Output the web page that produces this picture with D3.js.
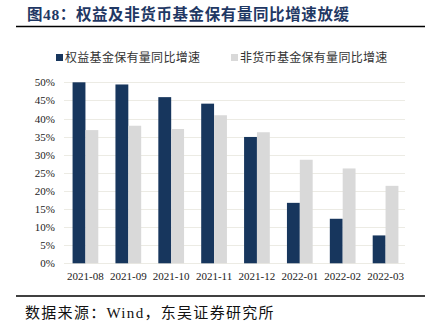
<!DOCTYPE html>
<html><head><meta charset="utf-8">
<script src="https://cdn.jsdelivr.net/npm/d3@7/dist/d3.min.js"></script>
<style>body{margin:0;background:#fff;}svg{display:block;}</style>
</head><body>
<div id="chart"></div>
<script>
const categories = ["2021-08","2021-09","2021-10","2021-11","2021-12","2022-01","2022-02","2022-03"];
const equityGrowth = [50.0, 49.4, 45.9, 44.1, 34.9, 16.7, 12.3, 7.7];
const nonMoneyGrowth = [36.8, 38.0, 37.1, 40.9, 36.2, 28.6, 26.2, 21.4];
const yTicks = [0,5,10,15,20,25,30,35,40,45,50];
const seriesNames = ["权益基金保有量同比增速","非货币基金保有量同比增速"];
const colors = ["#17365d","#d9d9d9"];
const titleText = "图48：权益及非货币基金保有量同比增速放缓";
const sourceText = "数据来源：Wind，东吴证券研究所";

const W = 433, H = 333;
const svg = d3.select("#chart").append("svg").attr("width", W).attr("height", H);
const cjk = "'Liberation Serif','Noto Sans CJK SC',serif";

svg.append("text").attr("x", 27).attr("y", 20)
  .attr("font-family", cjk).attr("font-size", 15.5).attr("font-weight", "bold").attr("letter-spacing", 0.6)
  .attr("fill", "#1f3864").text(titleText);
svg.append("line").attr("x1", 16).attr("x2", 425).attr("y1", 26.5).attr("y2", 26.5)
  .attr("stroke", "#000").attr("stroke-width", 1.5);

const x0 = d3.scaleBand().domain(categories).range([64, 407]).paddingInner(0.4).paddingOuter(0.2);
const x1 = d3.scaleBand().domain([0,1]).range([0, x0.bandwidth()]);
const y = d3.scaleLinear().domain([0, 50]).range([263.3, 82.3]);

// grid
svg.append("g").selectAll("line").data(yTicks).join("line")
  .attr("x1", 64).attr("x2", 405)
  .attr("y1", d => Math.round(y(d)) + 0.5).attr("y2", d => Math.round(y(d)) + 0.5)
  .attr("stroke", "#ecebe4").attr("stroke-width", 1);

// y axis
const yAxis = d3.axisLeft(y).tickValues(yTicks).tickFormat(d => d + "%").tickSize(0).tickPadding(0);
const yg = svg.append("g").attr("transform", "translate(55,0)").call(yAxis);
yg.select(".domain").remove();
yg.selectAll("text").attr("font-family", "'Liberation Serif',serif").attr("font-size", 11).attr("fill", "#222");

// bars
const groups = svg.append("g").selectAll("g").data(categories).join("g")
  .attr("transform", d => `translate(${x0(d)},0)`);
groups.selectAll("rect").data((d, i) => [equityGrowth[i], nonMoneyGrowth[i]].map((v, k) => ({v, k})))
  .join("rect")
  .attr("x", d => x1(d.k))
  .attr("width", x1.bandwidth())
  .attr("y", d => y(d.v))
  .attr("height", d => y(0) - y(d.v))
  .attr("fill", d => colors[d.k]);

// x axis
const xAxis = d3.axisBottom(x0).tickSize(0).tickPadding(8);
const xg = svg.append("g").attr("transform", "translate(0,264)").call(xAxis);
xg.select(".domain").remove();
xg.selectAll("text").attr("font-family", "'Liberation Serif',serif").attr("font-size", 11).attr("fill", "#222");

// legend
const legendPos = [56, 231];
seriesNames.forEach((name, i) => {
  svg.append("rect").attr("x", legendPos[i]).attr("y", 54).attr("width", 7).attr("height", 7).attr("fill", colors[i]);
  svg.append("text").attr("x", legendPos[i] + 9).attr("y", 62)
    .attr("font-family", cjk).attr("font-size", 12).attr("letter-spacing", 0.3).attr("fill", "#333").text(name);
});

// footer
svg.append("line").attr("x1", 16).attr("x2", 425).attr("y1", 296).attr("y2", 296)
  .attr("stroke", "#000").attr("stroke-width", 1.5);
svg.append("text").attr("x", 25).attr("y", 318)
  .attr("font-family", cjk).attr("font-size", 15).attr("letter-spacing", 1.3).attr("fill", "#111").text(sourceText);
</script>
</body></html>
